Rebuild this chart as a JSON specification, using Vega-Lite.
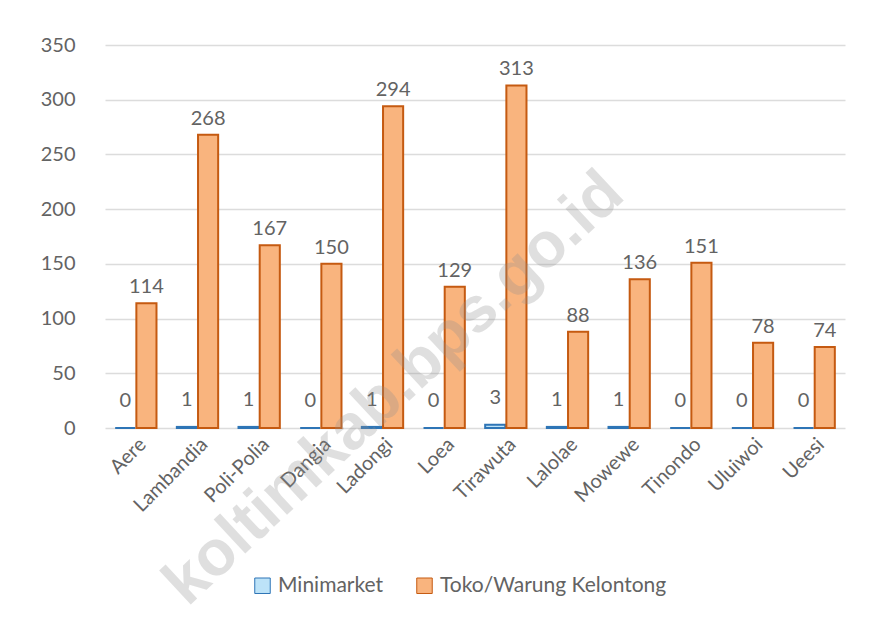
{
  "$schema": "https://vega.github.io/schema/vega-lite/v6.json",
  "width": 740,
  "height": 383,
  "autosize": "none",
  "padding": {"left": 105, "top": 45, "right": 47, "bottom": 190},
  "background": "white",
  "config": {
    "font": "Lato",
    "view": {"stroke": null},
    "axis": {"labelColor": "#636363", "labelFontSize": 20, "labelFont": "Lato"},
    "legend": {"labelColor": "#636363", "labelFontSize": 21, "labelFont": "Lato"}
  },
  "datasets": {
    "main": [
      {"kec": "Aere", "jenis": "Minimarket", "nilai": 0},
      {"kec": "Aere", "jenis": "Toko/Warung Kelontong", "nilai": 114},
      {"kec": "Lambandia", "jenis": "Minimarket", "nilai": 1},
      {"kec": "Lambandia", "jenis": "Toko/Warung Kelontong", "nilai": 268},
      {"kec": "Poli-Polia", "jenis": "Minimarket", "nilai": 1},
      {"kec": "Poli-Polia", "jenis": "Toko/Warung Kelontong", "nilai": 167},
      {"kec": "Dangia", "jenis": "Minimarket", "nilai": 0},
      {"kec": "Dangia", "jenis": "Toko/Warung Kelontong", "nilai": 150},
      {"kec": "Ladongi", "jenis": "Minimarket", "nilai": 1},
      {"kec": "Ladongi", "jenis": "Toko/Warung Kelontong", "nilai": 294},
      {"kec": "Loea", "jenis": "Minimarket", "nilai": 0},
      {"kec": "Loea", "jenis": "Toko/Warung Kelontong", "nilai": 129},
      {"kec": "Tirawuta", "jenis": "Minimarket", "nilai": 3},
      {"kec": "Tirawuta", "jenis": "Toko/Warung Kelontong", "nilai": 313},
      {"kec": "Lalolae", "jenis": "Minimarket", "nilai": 1},
      {"kec": "Lalolae", "jenis": "Toko/Warung Kelontong", "nilai": 88},
      {"kec": "Mowewe", "jenis": "Minimarket", "nilai": 1},
      {"kec": "Mowewe", "jenis": "Toko/Warung Kelontong", "nilai": 136},
      {"kec": "Tinondo", "jenis": "Minimarket", "nilai": 0},
      {"kec": "Tinondo", "jenis": "Toko/Warung Kelontong", "nilai": 151},
      {"kec": "Uluiwoi", "jenis": "Minimarket", "nilai": 0},
      {"kec": "Uluiwoi", "jenis": "Toko/Warung Kelontong", "nilai": 78},
      {"kec": "Ueesi", "jenis": "Minimarket", "nilai": 0},
      {"kec": "Ueesi", "jenis": "Toko/Warung Kelontong", "nilai": 74}
    ],
    "wm": [{"kec": "Ladongi", "nilai": 26, "teks": "koltimkab.bps.go.id"}]
  },
  "layer": [
    {
      "data": {"name": "main"},
      "mark": {"type": "bar", "strokeWidth": 2, "cornerRadius": 0, "minBandSize": 0},
      "encoding": {
        "x": {
          "field": "kec", "type": "nominal", "sort": null,
          "scale": {"paddingInner": 0.33, "paddingOuter": 0.165},
          "axis": {"title": null, "labelAngle": -45, "domain": false, "ticks": false, "labelPadding": 6, "grid": false}
        },
        "xOffset": {"field": "jenis", "type": "nominal", "scale": {"paddingInner": 0.05}},
        "y": {
          "field": "nilai", "type": "quantitative",
          "scale": {"domain": [0, 350], "nice": false},
          "axis": {"title": null, "values": [0, 50, 100, 150, 200, 250, 300, 350], "domain": false, "ticks": false, "labelPadding": 30, "gridColor": "#dcdcdc", "gridWidth": 1.5}
        },
        "color": {
          "field": "jenis", "type": "nominal",
          "scale": {"domain": ["Minimarket", "Toko/Warung Kelontong"], "range": ["#BDE3F8", "#F9B47E"]},
          "legend": {"title": null, "orient": "none", "legendX": 147, "legendY": 530, "direction": "horizontal", "symbolType": "square", "symbolSize": 240, "symbolStrokeWidth": 1, "columnPadding": 30, "labelOffset": 5, "labelLimit": 0}
        },
        "stroke": {
          "field": "jenis", "type": "nominal",
          "scale": {"domain": ["Minimarket", "Toko/Warung Kelontong"], "range": ["#2E75B6", "#C55A11"]},
          "legend": null
        }
      }
    },
    {
      "data": {"name": "main"},
      "transform": [{"filter": "datum.jenis === 'Minimarket'"}],
      "mark": {"type": "text", "baseline": "bottom", "dy": -17, "fontSize": 20, "color": "#636363", "font": "Lato"},
      "encoding": {
        "x": {"field": "kec", "type": "nominal", "sort": null},
        "xOffset": {"field": "jenis", "type": "nominal"},
        "y": {"field": "nilai", "type": "quantitative"},
        "text": {"field": "nilai", "type": "quantitative"}
      }
    },
    {
      "data": {"name": "main"},
      "transform": [{"filter": "datum.jenis !== 'Minimarket'"}],
      "mark": {"type": "text", "baseline": "bottom", "dy": -6, "fontSize": 20, "color": "#636363", "font": "Lato"},
      "encoding": {
        "x": {"field": "kec", "type": "nominal", "sort": null},
        "xOffset": {"field": "jenis", "type": "nominal"},
        "y": {"field": "nilai", "type": "quantitative"},
        "text": {"field": "nilai", "type": "quantitative"}
      }
    },
    {
      "data": {"name": "wm"},
      "mark": {"type": "text", "angle": -43, "fontSize": 64, "fontWeight": "bold", "font": "Liberation Sans", "color": "#909090", "opacity": 0.28, "dx": 16, "align": "center", "baseline": "middle"},
      "encoding": {
        "x": {"field": "kec", "type": "nominal", "sort": null},
        "y": {"field": "nilai", "type": "quantitative"},
        "text": {"field": "teks"}
      }
    }
  ]
}
